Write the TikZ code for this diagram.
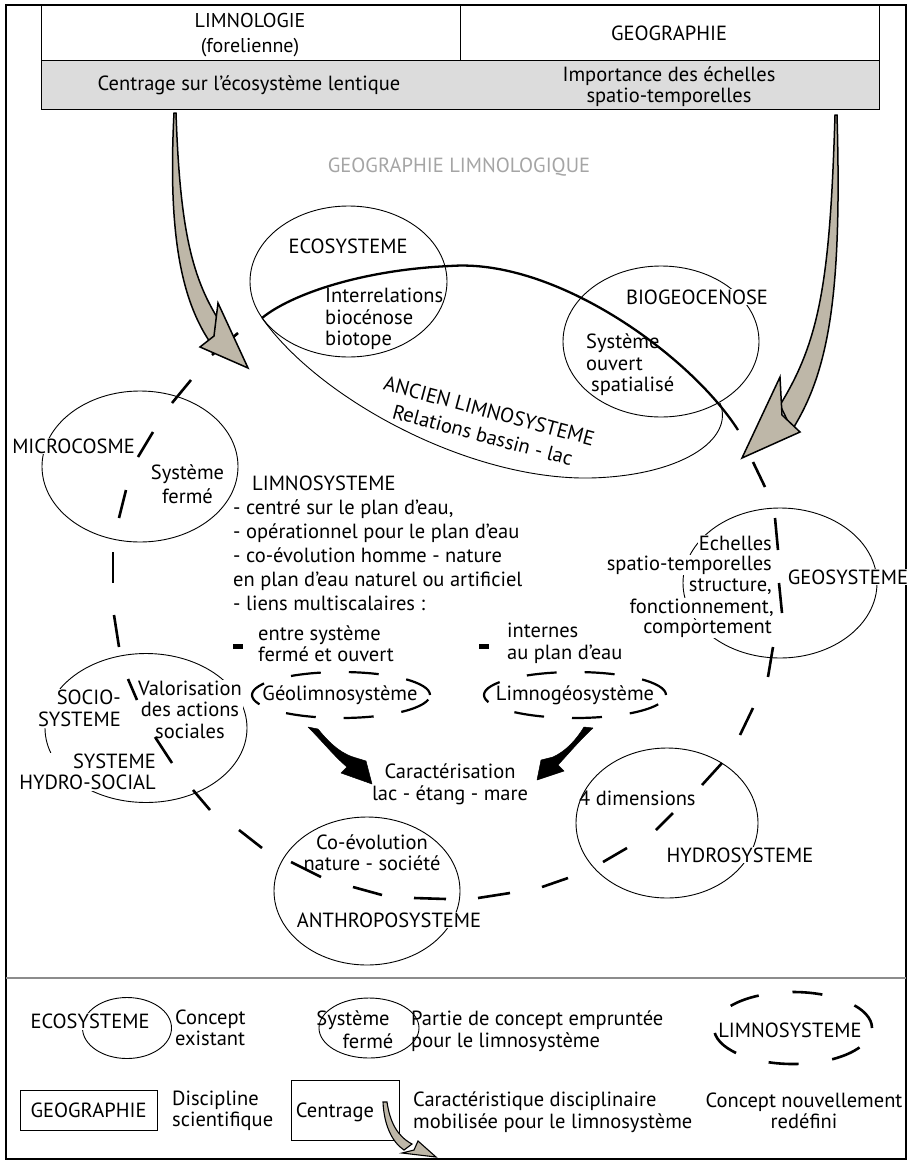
\documentclass[tikz,border=0pt]{standalone}
\usepackage{fontspec}
\setmainfont{PT Sans}
\usetikzlibrary{shapes.geometric}
\definecolor{arrowtan}{RGB}{190,183,168}
\definecolor{bandgray}{RGB}{220,220,220}
\definecolor{titlegray}{RGB}{165,165,165}
\begin{document}
\begin{tikzpicture}[x=1pt,y=-1pt,
  txt/.style={font=\fontsize{20.5}{21.5}\selectfont, inner sep=0pt, align=center},
  hdr/.style={font=\fontsize{20.5}{23}\selectfont, inner sep=0pt, align=center},
  wtxt/.style={txt, fill=white, inner sep=1pt},
  ell/.style={draw, ellipse, line width=0.9pt, inner sep=0pt, outer sep=0pt},
  dell/.style={draw, ellipse, line width=2.2pt, inner sep=0pt, dash pattern=on 30pt off 28pt},
  loopdash/.style={line width=2.6pt},
  bigarrow/.style={fill=arrowtan, draw=black, line width=1.5pt, line join=miter},
  blackarrow/.style={fill=black, draw=black, line width=0.5pt, line join=round},
  box/.style={draw, line width=0.9pt, inner sep=0pt}
]
\useasboundingbox (0,0) rectangle (914,1164);
\fill[white] (0,0) rectangle (914,1164);
% frame and separator
\draw[line width=1.2pt] (6,5) rectangle (906,1159);
\draw[black!45, line width=1.2pt] (6,978) -- (906,978);

% header
\node[box, minimum width=419pt, minimum height=55pt] (hl) at (250.5,32.5) {};
\node[box, minimum width=419pt, minimum height=55pt] (hg) at (669.5,32.5) {};
\node[box, fill=bandgray, minimum width=838pt, minimum height=49pt] (band) at (460,84.5) {};
\node[hdr, font=\fontsize{20}{25}\selectfont] (limnoT) at (250,35) {LIMNOLOGIE\\(forelienne)};
\node[hdr] (geogT) at (669,33) {GEOGRAPHIE};
\node[hdr] (centrT) at (249,85) {Centrage sur l’écosystème lentique};
\node[hdr, font=\fontsize{20.5}{21}\selectfont] (impT) at (669,87) {Importance des échelles\\spatio-temporelles};
\node[txt, text=titlegray] (glTitle) at (459,167) {GEOGRAPHIE LIMNOLOGIQUE};

% concept ellipses
\node[ell, minimum width=197pt, minimum height=151pt] (eco) at (348.5,281.5) {};
\node[ell, minimum width=196pt, minimum height=151pt] (bio) at (661,341.5) {};
\node[ell, minimum width=196pt, minimum height=151pt] (micro) at (140,466.5) {};
\node[ell, minimum width=202pt, minimum height=149pt] (socio) at (146,728) {};
\node[ell, minimum width=186pt, minimum height=148pt] (anthro) at (367,891) {};
\node[ell, minimum width=182pt, minimum height=150pt] (hydro) at (667,823) {};
\node[ell, minimum width=194pt, minimum height=150pt] (geo) at (780,583) {};

% ancien limnosysteme (lower edge)
\draw[line width=0.9pt] (262,318) .. controls (320,400) and (470,480) .. (590,478)
   .. controls (680,476) and (735,440) .. (720,403);

% texts
\node[txt] (ecoT) at (348,246) {ECOSYSTEME};
\node[txt, align=left, anchor=west] (ecoS) at (325,319) {Interrelations\\biocénose\\biotope};
\node[wtxt] (bioT) at (697,297) {BIOGEOCENOSE};
\node[txt, align=left, anchor=west] (bioS) at (586,365) {Système\\ouvert\\\hspace*{5pt}spatialisé};
\node[txt, rotate=-15, font=\fontsize{20.5}{25}\selectfont] (ancT) at (486,423) {ANCIEN LIMNOSYSTEME\\Relations bassin - lac};
\node[wtxt] (microT) at (73.5,446) {MICROCOSME};
\node[txt, font=\fontsize{20.5}{24}\selectfont] (microS) at (187.5,484.5) {Système\\fermé};
\node[txt, align=left, anchor=west, font=\fontsize{20.5}{24}\selectfont] (limnoS) at (233,543)
  {\hspace*{19pt}LIMNOSYSTEME\\- centré sur le plan d’eau,\\- opérationnel pour le plan d’eau\\- co-évolution homme - nature\\en plan d’eau naturel ou artificiel\\- liens multiscalaires :};
\node[fill=black, inner sep=0pt, minimum width=10pt, minimum height=5pt] (bul1) at (238,646.5) {};
\node[fill=black, inner sep=0pt, minimum width=10pt, minimum height=5pt] (bul2) at (484,646.5) {};
\node[txt, align=left, anchor=west] (lien1) at (258,643.5) {entre système\\fermé et ouvert};
\node[txt, align=left, anchor=west] (lien2) at (507,643.5) {internes\\au plan d’eau};
\node[txt] (geolT) at (340,695) {Géolimnosystème};
\node[txt] (limgT) at (575,695) {Limnogéosystème};
\node[dell, minimum width=178pt, minimum height=46pt] (geol) at (341,695) {};
\node[dell, minimum width=182pt, minimum height=46pt] (limg) at (575,695) {};
\node[txt, font=\fontsize{20.5}{22}\selectfont] (caract) at (450,784) {Caractérisation\\lac - étang - mare};
\node[wtxt, align=right, anchor=east] (socioT) at (122,708.5) {SOCIO-\\SYSTEME};
\node[wtxt] (socioS) at (190,709.5) {Valorisation\\des actions\\sociales};
\node[wtxt, align=right, anchor=east] (hydsocT) at (157,772) {SYSTEME\\HYDRO-SOCIAL};
\node[txt] (anthroS) at (372,852.5) {Co-évolution\\nature - société};
\node[wtxt] (anthroT) at (389,920) {ANTHROPOSYSTEME};
\node[txt, anchor=west] (hydroS) at (579,798) {4 dimensions};
\node[wtxt] (hydroT) at (740,855) {HYDROSYSTEME};
\node[wtxt, anchor=east] (g1) at (773,543) {Echelles};
\node[wtxt, anchor=east] (g2) at (773,565) {spatio-temporelles};
\node[wtxt, anchor=east] (g3) at (773,587) {structure,};
\node[wtxt, anchor=east] (g4) at (775,608) {fonctionnement,};
\node[wtxt, anchor=east] (g5) at (773,629) {comportement};
\node[wtxt] (geoT) at (848,577) {GEOSYSTEME};

% the limnosysteme loop
\foreach \xa/\ya/\xb/\yb in {238/333/212/355, 191/380/172/403, 153/432/138/457,
   126/490/119/518, 113/552/113/583, 114/615/119/647, 128/679/137/700,
   155/737/172/763, 193/790/210/810, 239/830/262/848, 291/862/321/877,
   353/887/382/895, 414/898/446/899, 478/898/510/893, 542/887/568/878,
   603/862/627/848, 656/830/673/813, 702/785/722/763, 740/735/753/708,
   768/677/773/647, 782/613/779/583, 778/550/775/518, 765/487/753/462}
   \draw[loopdash] (\xa,\ya) -- (\xb,\yb);
\draw[line width=2.3pt] (738,430) .. controls (690,355) and (555,258) .. (450,266)
   .. controls (360,270) and (290,295) .. (262,318);

% big tan arrows
\draw[bigarrow] (174,113) .. controls (168,230) and (180,300) .. (212,345)
   -- (222,325) .. controls (192,280) and (180,230) .. (176,113) -- cycle;
\draw[bigarrow] (248,368) -- (218,303) -- (214,336) -- (200,347) -- cycle;
\draw[bigarrow] (835,115) .. controls (830,280) and (820,340) .. (780,405)
   -- (792,430) .. controls (830,370) and (842,290) .. (837,115) -- cycle;
\draw[bigarrow] (742,458) -- (780,377) -- (782,415) -- (800,432) -- cycle;

% black arrows to caracterisation
\draw[blackarrow] (308,727) -- (318,729) .. controls (327,740) and (338,752) .. (353,757)
   -- (366,761) -- (372,784) -- (341,773) -- (347,767)
   .. controls (334,756) and (323,742) .. (308,727) -- cycle;
\draw[blackarrow] (593,728) -- (584,727) .. controls (576,740) and (566,751) .. (553,757)
   -- (541,760) -- (537,780) -- (564,771) -- (558,765)
   .. controls (570,752) and (580,740) .. (593,728) -- cycle;

% legend
\node[ell, minimum width=89pt, minimum height=61pt] (lgEll1) at (127,1028) {};
\node[wtxt] (lgEcoT) at (90,1021.5) {ECOSYSTEME};
\node[txt, align=left, anchor=west] (lgEcoD) at (175,1028) {Concept\\existant};
\node[ell, minimum width=100pt, minimum height=60pt] (lgEll2) at (369,1028) {};
\node[txt] (lgSys1) at (353,1020) {Système};
\node[txt] (lgSys2) at (368,1041) {fermé};
\node[txt, align=left, anchor=west] (lgSysD) at (411,1031) {Partie de concept empruntée\\pour le limnosystème};
\node[dell, line width=2.6pt, dash pattern=on 30pt off 34pt, minimum width=158pt, minimum height=72pt] (lgEll3) at (793,1028) {};
\node[txt] (lgLimT) at (790,1030) {LIMNOSYSTEME};
\node[box, minimum width=137pt, minimum height=40pt] (lgBox1) at (88.5,1110) {};
\node[txt] (lgGeoT) at (88.5,1110) {GEOGRAPHIE};
\node[txt, align=left, anchor=west] (lgGeoD) at (172,1111) {Discipline\\scientifique};
\node[box, minimum width=108pt, minimum height=60pt] (lgBox2) at (345,1110) {};
\node[txt] (lgCenT) at (335,1112) {Centrage};
\draw[bigarrow, line width=1.1pt] (383,1102) .. controls (384,1125) and (392,1142) .. (404,1150)
   -- (412,1144) .. controls (397,1136) and (390,1122) .. (387,1102) -- cycle;
\draw[bigarrow, line width=1.1pt] (436,1157) -- (418,1141) -- (414,1150) -- (402,1153) -- cycle;
\node[txt, align=left, anchor=west] (lgCenD) at (413,1112) {Caractéristique disciplinaire\\mobilisée pour le limnosystème};
\node[txt] (lgNewD) at (804,1111) {Concept nouvellement\\redéfini};
\end{tikzpicture}
\end{document}
